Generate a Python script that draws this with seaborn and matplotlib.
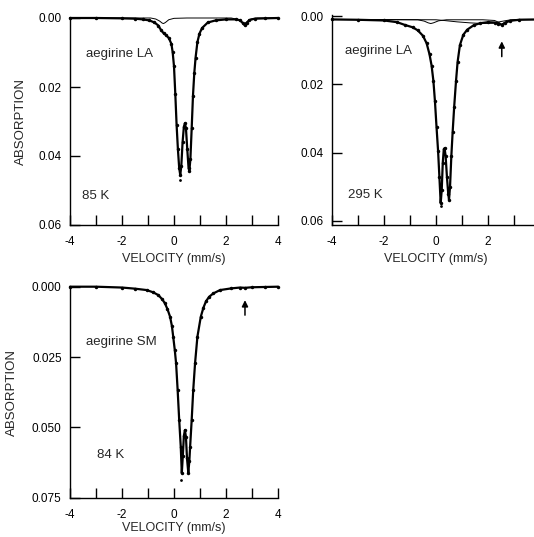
import numpy as np
import pandas as pd
import matplotlib
matplotlib.use("Agg")
import matplotlib.pyplot as plt
import seaborn as sns

# --- values (velocity mm/s, absorption) ---
# aegirine LA, 85 K : total fit / data envelope
la85_vel = [-4.0, -3.0, -2.0, -1.5, -1.2, -0.95, -0.75, -0.6, -0.5, -0.4, -0.3, -0.2, -0.1,
            -0.05, 0.0, 0.05, 0.10, 0.15, 0.20, 0.24, 0.28, 0.33, 0.38, 0.42, 0.46, 0.51,
            0.56, 0.59, 0.63, 0.68, 0.73, 0.78, 0.83, 0.90, 0.98, 1.08, 1.3, 1.6, 2.0, 2.4,
            2.55, 2.65, 2.72, 2.8, 2.9, 3.1, 3.5, 4.0]
la85_abs = [0.0000, 0.0000, 0.0001, 0.0002, 0.0004, 0.0007, 0.0013, 0.0022, 0.0035, 0.0044,
            0.0050, 0.0058, 0.0075, 0.0100, 0.0140, 0.0220, 0.0310, 0.0380, 0.0435, 0.0455,
            0.0430, 0.0360, 0.0315, 0.0305, 0.0320, 0.0380, 0.0435, 0.0443, 0.0410, 0.0320,
            0.0225, 0.0160, 0.0115, 0.0070, 0.0045, 0.0029, 0.0013, 0.0007, 0.0004, 0.0004,
            0.0007, 0.0015, 0.0021, 0.0014, 0.0006, 0.0002, 0.0001, 0.0000]
# aegirine LA, 85 K : Fe2+ subspectrum
la85_sub_vel = [-4.0, -0.9, -0.7, -0.55, -0.45, -0.4, -0.33, -0.2, 0.0, 0.5, 2.2, 2.45, 2.6,
                2.7, 2.8, 2.95, 3.2, 4.0]
la85_sub_abs = [0.0, 0.0, 0.0003, 0.0009, 0.0015, 0.0016, 0.0013, 0.0005, 0.0001, 0.0, 0.0,
                0.0004, 0.0012, 0.0017, 0.0011, 0.0003, 0.0, 0.0]

# aegirine LA, 295 K : total fit / data envelope
la295_vel = [-4.0, -3.0, -2.0, -1.5, -1.2, -0.9, -0.7, -0.5, -0.36, -0.25, -0.17, -0.1, -0.04,
             0.02, 0.08, 0.13, 0.18, 0.22, 0.26, 0.30, 0.33, 0.37, 0.42, 0.47, 0.50, 0.54,
             0.59, 0.64, 0.70, 0.77, 0.83, 0.92, 1.05, 1.2, 1.45, 1.7, 2.0, 2.25, 2.4, 2.53,
             2.65, 2.85, 3.2, 4.0]
la295_abs = [0.0010, 0.0011, 0.0013, 0.0018, 0.0026, 0.0033, 0.0042, 0.0058, 0.0080, 0.0112,
             0.0145, 0.0190, 0.0250, 0.0325, 0.0395, 0.0470, 0.0548, 0.0510, 0.0430, 0.0390,
             0.0387, 0.0410, 0.0470, 0.0520, 0.0538, 0.0500, 0.0410, 0.0340, 0.0265, 0.0190,
             0.0135, 0.0085, 0.0055, 0.0040, 0.0027, 0.0021, 0.0018, 0.0019, 0.0022, 0.0026,
             0.0020, 0.0014, 0.0011, 0.0010]
# aegirine LA, 295 K : Fe2+ doublet and broad component
la295_sub1_vel = [-4.0, -0.7, -0.45, -0.3, -0.2, -0.1, 0.1, 0.4, 1.8, 2.25, 2.4, 2.53, 2.65,
                  2.85, 3.2, 4.0]
la295_sub1_abs = [0.0010, 0.0011, 0.0015, 0.0020, 0.0022, 0.0020, 0.0014, 0.0011, 0.0011,
                  0.0013, 0.0018, 0.0024, 0.0018, 0.0012, 0.0010, 0.0010]
la295_sub2_vel = [-4.0, 0.0, 0.3, 0.8, 1.3, 1.8, 2.2, 2.5, 2.8, 3.2, 4.0]
la295_sub2_abs = [0.0010, 0.0011, 0.0013, 0.0017, 0.0020, 0.0022, 0.0021, 0.0016, 0.0012,
                  0.0010, 0.0010]

# aegirine SM, 84 K : total fit / data envelope
sm84_vel = [-4.0, -3.0, -2.0, -1.5, -1.05, -0.8, -0.6, -0.45, -0.35, -0.25, -0.15, -0.08,
            -0.03, 0.03, 0.08, 0.14, 0.20, 0.26, 0.30, 0.34, 0.38, 0.42, 0.46, 0.50, 0.55,
            0.59, 0.62, 0.68, 0.74, 0.81, 0.90, 1.03, 1.13, 1.23, 1.35, 1.51, 1.77, 2.2,
            2.54, 2.73, 3.0, 3.5, 4.0]
sm84_abs = [0.0000, 0.0000, 0.0003, 0.0007, 0.0012, 0.0020, 0.0030, 0.0045, 0.0059, 0.0080,
            0.0107, 0.0140, 0.0178, 0.0225, 0.0272, 0.0367, 0.0474, 0.0569, 0.0663, 0.0600,
            0.0530, 0.0510, 0.0535, 0.0610, 0.0661, 0.0620, 0.0569, 0.0474, 0.0367, 0.0272,
            0.0178, 0.0107, 0.0075, 0.0052, 0.0036, 0.0024, 0.0012, 0.0006, 0.0003, 0.0004,
            0.0002, 0.0001, 0.0000]

# stray data points below the peaks
outlier_vel = [0.24, 0.18, 0.28]
outlier_abs = [0.0470, 0.0557, 0.0688]

panel_labels = ["aegirine LA", "aegirine LA", "aegirine SM"]
temp_labels = ["85 K", "295 K", "84 K"]
xticks = [-4, -3, -2, -1, 0, 1, 2, 3, 4]
xtick_labels = ["-4", "", "-2", "", "0", "", "2", "", "4"]

sns.set_style("ticks")
plt.rcParams["font.family"] = ["Liberation Sans", "DejaVu Sans"]
plt.rcParams["font.size"] = 8.5

fig = plt.figure(figsize=(5.34, 5.37), dpi=100)
ax1 = fig.add_axes([70 / 534, 1 - 225 / 537, 208 / 534, 207 / 537])
ax2 = fig.add_axes([332 / 534, 1 - 225 / 537, 208 / 534, 210 / 537])
ax3 = fig.add_axes([70 / 534, 1 - 497.7 / 537, 208 / 534, 211 / 537])


def draw_total(ax, vel, ab):
    df = pd.DataFrame({"v": vel, "a": ab})
    sns.lineplot(data=df, x="v", y="a", ax=ax, color="black", lw=1.6, sort=False,
                 estimator=None, marker="o", markersize=2.5, markeredgewidth=0, clip_on=False)


def draw_sub(ax, vel, ab):
    df = pd.DataFrame({"v": vel, "a": ab})
    sns.lineplot(data=df, x="v", y="a", ax=ax, color="black", lw=0.7, sort=False,
                 estimator=None, clip_on=False)


draw_total(ax1, la85_vel, la85_abs)
draw_sub(ax1, la85_sub_vel, la85_sub_abs)
draw_total(ax2, la295_vel, la295_abs)
draw_sub(ax2, la295_sub1_vel, la295_sub1_abs)
draw_sub(ax2, la295_sub2_vel, la295_sub2_abs)
draw_total(ax3, sm84_vel, sm84_abs)
for ax, v, a in zip([ax1, ax2, ax3], outlier_vel, outlier_abs):
    ax.plot([v], [a], "o", color="black", ms=2, mew=0)

ax1.set_ylim(0.06, 0.0)
ax2.set_ylim(0.0612, -0.0003)
ax3.set_ylim(0.075, 0.0)
ax1.set_yticks([0.0, 0.02, 0.04, 0.06])
ax1.set_yticklabels(["0.00", "0.02", "0.04", "0.06"])
ax2.set_yticks([0.0, 0.02, 0.04, 0.06])
ax2.set_yticklabels(["0.00", "0.02", "0.04", "0.06"])
ax3.set_yticks([0.0, 0.025, 0.05, 0.075])
ax3.set_yticklabels(["0.000", "0.025", "0.050", "0.075"])

for ax, lab, temp, ty, tty in zip([ax1, ax2, ax3], panel_labels, temp_labels,
                                  [0.0105, 0.0103, 0.0196], [0.0515, 0.0524, 0.0598]):
    ax.set_xlim(-4, 4)
    ax.set_xticks(xticks)
    ax.set_xticklabels(xtick_labels if ax is not ax2 else xtick_labels[:-1] + [""])
    ax.tick_params(direction="in", length=7, width=1, colors="black", labelsize=8.5)
    ax.tick_params(axis="x", pad=8)
    ax.tick_params(axis="y", pad=6)
    for s in ["left", "bottom"]:
        ax.spines[s].set_linewidth(1.0)
        ax.spines[s].set_color("black")
    sns.despine(ax=ax)
    ax.set_xlabel("VELOCITY (mm/s)", fontsize=9)
    ax.set_ylabel("")
    ax.text(-3.4 if ax is not ax2 else -3.5, ty, lab, fontsize=9.5, va="center", ha="left")
    ax.text(-3.55 if ax is ax1 else (-3.4 if ax is ax2 else -2.95), tty, temp,
            fontsize=9.5, va="center", ha="left")

ax1.set_ylabel("ABSORPTION", fontsize=9.5)
ax3.set_ylabel("ABSORPTION", fontsize=9.5)
ax1.yaxis.set_label_coords(-0.207, 0.5)
ax3.yaxis.set_label_coords(-0.25, 0.5)
ax1.xaxis.set_label_coords(0.5, -0.135)
ax2.xaxis.set_label_coords(0.5, -0.133)
ax3.xaxis.set_label_coords(0.5, -0.114)

arrow = dict(arrowstyle="-|>", color="black", lw=1.1, mutation_scale=9)
ax2.annotate("", xy=(2.53, 0.0066), xytext=(2.53, 0.0127), arrowprops=arrow)
ax3.annotate("", xy=(2.73, 0.0038), xytext=(2.73, 0.0111), arrowprops=arrow)

plt.savefig("out.png", dpi=100)
